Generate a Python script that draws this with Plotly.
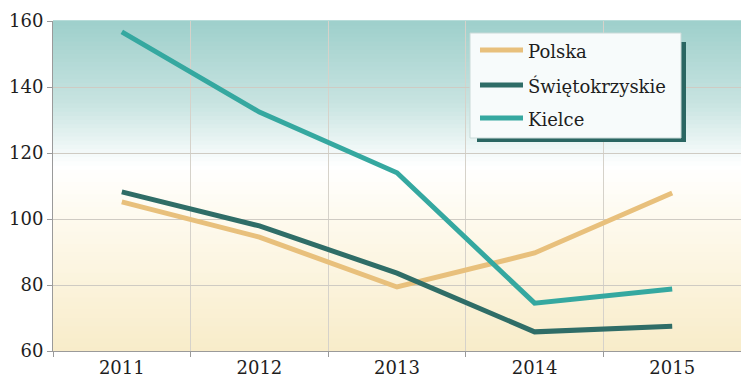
import plotly.graph_objects as go

# data
years = ["2011", "2012", "2013", "2014", "2015"]
polska = [105.2, 94.5, 79.4, 89.7, 107.9]
swietokrzyskie = [108.2, 97.9, 83.6, 65.8, 67.5]
kielce = [156.7, 132.4, 114.0, 74.5, 78.8]

series_names = ["Polska", "Świętokrzyskie", "Kielce"]
series_values = [polska, swietokrzyskie, kielce]
series_colors = ["#E8C07C", "#2F6D67", "#35A8A0"]

y_ticks = [60, 80, 100, 120, 140, 160]

FONT = "DejaVu Serif"


def lerp_color(stops, t):
    # stops: list of (pos, (r, g, b)) sorted by pos
    for (p0, c0), (p1, c1) in zip(stops, stops[1:]):
        if p0 <= t <= p1:
            f = (t - p0) / (p1 - p0) if p1 > p0 else 0
            c = [round(a + (b - a) * f) for a, b in zip(c0, c1)]
            return "rgb(%d,%d,%d)" % tuple(c)
    return "rgb(%d,%d,%d)" % stops[-1][1]


bg_stops = [
    (0.0, (248, 236, 201)),
    (0.40, (254, 250, 238)),
    (0.56, (255, 255, 255)),
    (0.75, (200, 228, 225)),
    (1.0, (158, 207, 203)),
]

fig = go.Figure()

for name, vals, col in zip(series_names, series_values, series_colors):
    fig.add_trace(go.Scatter(
        x=years, y=vals, mode="lines", name=name,
        line=dict(color=col, width=5),
        showlegend=False,
    ))

shapes = []
n_strips = 80
for i in range(n_strips):
    y0 = i / n_strips
    y1 = (i + 1) / n_strips
    shapes.append(dict(
        type="rect", xref="paper", yref="paper",
        x0=0, x1=1, y0=y0, y1=y1 + 0.002,
        fillcolor=lerp_color(bg_stops, (y0 + y1) / 2),
        line=dict(width=0), layer="below",
    ))

# legend box with shadow (pixel coords -> paper coords)
W, H = 741, 380
ML, MR, MT, MB = 53, 0, 21, 29
pw, ph = W - ML - MR, H - MT - MB


def px(x):
    return (x - ML) / pw


def py(y):
    return 1 - (y - MT) / ph


shapes.append(dict(type="rect", xref="paper", yref="paper",
                   x0=px(477), x1=px(686), y0=py(142), y1=py(42),
                   fillcolor="#2A6662", line=dict(width=0), layer="above"))
shapes.append(dict(type="rect", xref="paper", yref="paper",
                   x0=px(470), x1=px(681), y0=py(138), y1=py(33),
                   fillcolor="rgba(247,251,251,1)",
                   line=dict(color="#C9DAD8", width=1), layer="above"))

annotations = []
legend_y = [50, 85, 118]
for name, col, ly in zip(series_names, series_colors, legend_y):
    shapes.append(dict(type="line", xref="paper", yref="paper",
                       x0=px(480), x1=px(523), y0=py(ly), y1=py(ly),
                       line=dict(color=col, width=5), layer="above"))
    annotations.append(dict(xref="paper", yref="paper",
                            x=px(526), y=py(ly + 1), xanchor="left", yanchor="middle",
                            text=name, showarrow=False,
                            font=dict(family=FONT, size=18, color="#1E1E1E")))

fig.update_layout(
    width=W, height=H,
    margin=dict(l=ML, r=MR, t=MT, b=MB),
    paper_bgcolor="white",
    plot_bgcolor="white",
    shapes=shapes,
    annotations=annotations,
    font=dict(family=FONT, size=18, color="#1E1E1E"),
    xaxis=dict(
        type="category", range=[-0.5, 4.5],
        tickson="boundaries", ticks="outside", ticklen=5, tickcolor="#9A9A9A",
        showgrid=True, gridcolor="#D6D2CA", gridwidth=1,
        showline=True, linecolor="#9A9A9A", linewidth=1,
        tickfont=dict(family=FONT, size=18, color="#1E1E1E"),
        fixedrange=True,
    ),
    yaxis=dict(
        range=[60, 160], tickvals=y_ticks,
        ticks="outside", ticklen=5, tickcolor="#9A9A9A",
        showgrid=True, gridcolor="#CFCBC3", gridwidth=1,
        showline=True, linecolor="#9A9A9A", linewidth=1,
        zeroline=False,
        tickfont=dict(family=FONT, size=18, color="#1E1E1E"),
        fixedrange=True,
    ),
)

fig.write_html("out.html", config={"displayModeBar": False},
               post_script="document.body.style.margin='0';")
